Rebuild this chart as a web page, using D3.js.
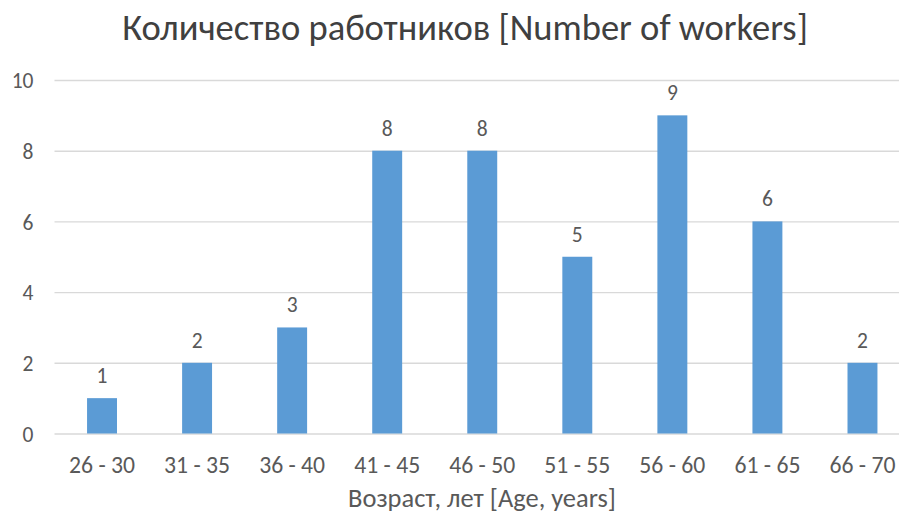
<!DOCTYPE html>
<html><head><meta charset="utf-8">
<script src="https://cdn.jsdelivr.net/npm/d3@7"></script>
<style>
html,body{margin:0;padding:0;background:#fff;}
svg{display:block;font-family:Carlito,Calibri,Lato,"Open Sans",sans-serif;}
</style></head>
<body>
<svg id="c" width="899" height="514"></svg>
<script>
const categories = ["26 - 30","31 - 35","36 - 40","41 - 45","46 - 50","51 - 55","56 - 60","61 - 65","66 - 70"];
const values = [1,2,3,8,8,5,9,6,2];
const yTicks = [0,2,4,6,8,10];
const titleText = "Количество работников [Number of workers]";
const xAxisTitle = "Возраст, лет [Age, years]";

const svg = d3.select("#c");
const W = 899, H = 514;
const x = d3.scaleBand().domain(categories).range([54.5, 910]).paddingInner(0.685).paddingOuter(0.3425);
const y = d3.scaleLinear().domain([0,10]).range([433.5, 80]);

function fit(sel, target){
  const n = sel.node(); const fs = parseFloat(sel.attr("font-size"));
  const len = n.getComputedTextLength();
  if(len>0) sel.attr("font-size", fs*target/len);
}

// gridlines + y labels
const grid = svg.append("g").call(d3.axisLeft(y).tickValues(yTicks).tickSize(-(W-54.5)).tickFormat(d3.format("d")))
  .attr("transform","translate(54.5,0)");
grid.select(".domain").remove();
grid.selectAll(".tick line").attr("stroke","#d9d9d9").attr("stroke-width",1.4);
grid.selectAll(".tick text").attr("fill","#595959").attr("font-size",21.5).attr("x",-21).attr("dy","0.36em")
  .style("font-family","Carlito,Calibri,Lato,'Open Sans',sans-serif");

// bars
svg.append("g").selectAll("rect").data(values).join("rect")
  .attr("x",(d,i)=>x(categories[i])).attr("width",x.bandwidth())
  .attr("y",d=>y(d)).attr("height",d=>y(0)-y(d)).attr("fill","#5b9bd5");

// data labels
svg.append("g").selectAll("text").data(values).join("text")
  .attr("x",(d,i)=>x(categories[i])+x.bandwidth()/2).attr("y",d=>y(d)-15)
  .attr("text-anchor","middle").attr("fill","#595959").attr("font-size",21.5).text(d=>d);

// x axis labels
const xa = svg.append("g").attr("transform","translate(0,433.5)")
  .call(d3.axisBottom(x).tickSize(0).tickPadding(0));
xa.select(".domain").remove();
xa.selectAll(".tick text").attr("fill","#595959").attr("font-size",20).attr("y",39.5).attr("dy",0)
  .style("font-family","Carlito,Calibri,Lato,'Open Sans',sans-serif");
xa.selectAll(".tick text").each(function(){ fit(d3.select(this),66); });

// titles
const t = svg.append("text").attr("x",465).attr("y",40).attr("text-anchor","middle")
  .attr("fill","#404040").attr("font-size",32).text(titleText);
fit(t,686);
const at = svg.append("text").attr("x",482).attr("y",507).attr("text-anchor","middle")
  .attr("fill","#595959").attr("font-size",20).text(xAxisTitle);
fit(at,268);
</script>
</body></html>
